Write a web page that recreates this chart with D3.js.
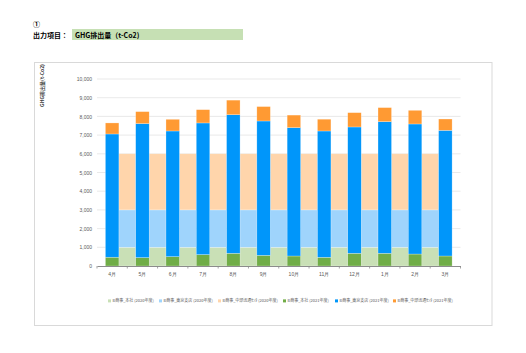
<!DOCTYPE html>
<html>
<head>
<meta charset="utf-8">
<script src="https://cdn.jsdelivr.net/npm/d3@7"></script>
<style>
  body { margin: 0; background: #fff; font-family: "Noto Sans CJK JP", "Noto Sans", sans-serif; }
</style>
</head>
<body>
<div id="chart"></div>
<script>
// months (fiscal year order)
const months = ["4月", "5月", "6月", "7月", "8月", "9月", "10月", "11月", "12月", "1月", "2月", "3月"];
const yTicks = [0, 1000, 2000, 3000, 4000, 5000, 6000, 7000, 8000, 9000, 10000];

// 2020 fiscal year (constant values, no bar shown after 3月)
const honsha2020 = [1000, 1000, 1000, 1000, 1000, 1000, 1000, 1000, 1000, 1000, 1000, null];
const tokyo2020  = [2000, 2000, 2000, 2000, 2000, 2000, 2000, 2000, 2000, 2000, 2000, null];
const chubu2020  = [3000, 3000, 3000, 3000, 3000, 3000, 3000, 3000, 3000, 3000, 3000, null];

// 2021 fiscal year
const honsha2021 = [470, 450, 500, 610, 680, 570, 535, 465, 680, 680, 640, 535];
const tokyo2021  = [6590, 7165, 6720, 7040, 7410, 7185, 6865, 6755, 6755, 7040, 6955, 6720];
const chubu2021  = [590, 640, 625, 710, 780, 770, 670, 630, 765, 750, 730, 605];

const seriesNames = [
  "B商事_本社 (2020年度)", "B商事_東京支店 (2020年度)", "B商事_中部流通ｾﾝﾀ (2020年度)",
  "B商事_本社 (2021年度)", "B商事_東京支店 (2021年度)", "B商事_中部流通ｾﾝﾀ (2021年度)"
];
const colors = ["#c9e0b6", "#9fd4fc", "#ffd5ab", "#70ad47", "#0096fa", "#ff9a33"];

const W = 526, H = 353;
const svg = d3.select("#chart").append("svg")
  .attr("width", W)
  .attr("height", H);

// header
svg.append("text").attr("x", 33).attr("y", 27)
  .style("font-size", "7px").style("font-weight", "bold").text("①");
svg.append("text").attr("x", 33).attr("y", 38)
  .style("font-size", "7px").style("font-weight", "bold").text("出力項目：");
svg.append("rect").attr("x", 72).attr("y", 29).attr("width", 171).attr("height", 11)
  .attr("fill", "#c6e0b4");
svg.append("text").attr("x", 75).attr("y", 37.5)
  .style("font-size", "7px").style("font-weight", "bold").text("GHG排出量（t-Co2)");

// chart frame
svg.append("rect").attr("x", 34.5).attr("y", 62.5).attr("width", 457.5).attr("height", 263)
  .attr("fill", "#fff").attr("stroke", "#d9d9d9");

const plot = { left: 97, right: 460.5, top: 79, bottom: 266 };

const x = d3.scaleBand()
  .domain(months)
  .range([plot.left, plot.right]);

const y = d3.scaleLinear()
  .domain([0, 10000])
  .range([plot.bottom, plot.top]);

// gridlines
svg.append("g")
  .selectAll("line")
  .data(yTicks.slice(1))
  .join("line")
  .attr("x1", plot.left).attr("x2", plot.right)
  .attr("y1", d => y(d)).attr("y2", d => y(d))
  .attr("stroke", "#e3e3e3").attr("stroke-width", 0.8);

// y axis labels
const yAxis = svg.append("g")
  .attr("transform", `translate(${plot.left - 5},0)`)
  .call(d3.axisLeft(y).tickValues(yTicks).tickSize(0).tickFormat(d3.format(",")));
yAxis.select(".domain").remove();
yAxis.selectAll("text").attr("fill", "#595959").style("font-size", "5px").attr("x", 0);

// y axis title
svg.append("text")
  .attr("transform", "translate(42,64) rotate(-90)")
  .attr("text-anchor", "end")
  .attr("dy", "0.35em")
  .attr("fill", "#404040")
  .style("font-size", "5px")
  .style("font-weight", "bold")
  .text("GHG排出量(t-Co2)");

// stacked data
function stackRows(a, b, c) {
  return months.map((m, i) => {
    if (a[i] == null) return null;
    const s1 = a[i], s2 = s1 + b[i], s3 = s2 + c[i];
    return { month: m, segs: [[0, s1], [s1, s2], [s2, s3]] };
  }).filter(d => d);
}
const rows2020 = stackRows(honsha2020, tokyo2020, chubu2020);
const rows2021 = stackRows(honsha2021, tokyo2021, chubu2021);

const bw2021 = 13.5, bw2020 = 17;

// 2020 bars sit between consecutive months
const g2020 = svg.append("g");
rows2020.forEach(r => {
  const cx = x(r.month) + x.bandwidth();
  g2020.selectAll(null)
    .data(r.segs)
    .join("rect")
    .attr("x", cx - bw2020 / 2)
    .attr("width", bw2020)
    .attr("y", d => y(d[1]))
    .attr("height", d => y(d[0]) - y(d[1]))
    .attr("fill", (d, i) => colors[i])
    .attr("stroke", "#fff").attr("stroke-opacity", 0.5).attr("stroke-width", 0.5);
});

// 2021 bars centred on the month
const g2021 = svg.append("g");
rows2021.forEach(r => {
  const cx = x(r.month) + x.bandwidth() / 2;
  g2021.selectAll(null)
    .data(r.segs)
    .join("rect")
    .attr("x", cx - bw2021 / 2)
    .attr("width", bw2021)
    .attr("y", d => y(d[1]))
    .attr("height", d => y(d[0]) - y(d[1]))
    .attr("fill", (d, i) => colors[i + 3])
    .attr("stroke", "#fff").attr("stroke-opacity", 0.5).attr("stroke-width", 0.5);
});

// x axis
const xAxis = svg.append("g")
  .attr("transform", `translate(0,${plot.bottom})`)
  .call(d3.axisBottom(x).tickSize(0).tickPadding(6));
xAxis.select(".domain").attr("stroke", "#8c8c8c");
xAxis.selectAll("text").attr("fill", "#595959").style("font-size", "5px");

// tick marks at category boundaries
svg.append("g")
  .selectAll("line")
  .data(months.map((m) => x(m)).concat([plot.right]))
  .join("line")
  .attr("x1", d => d).attr("x2", d => d)
  .attr("y1", plot.bottom).attr("y2", plot.bottom + 2.5)
  .attr("stroke", "#8c8c8c").attr("stroke-width", 0.8);

// legend
const legendX = [108, 159, 218, 283, 335, 393];
const legend = svg.append("g").attr("transform", "translate(0,301)");
seriesNames.forEach((name, i) => {
  legend.append("rect")
    .attr("x", legendX[i]).attr("y", -1.6)
    .attr("width", 3).attr("height", 3)
    .attr("fill", colors[i]);
  const label = legend.append("text")
    .attr("x", legendX[i] + 4.5).attr("y", 0)
    .attr("dy", "0.35em")
    .attr("fill", "#595959")
    .style("font-size", "4px")
    .text(name);
  // keep each label inside its slot like the reference
  const room = (i < 5 ? legendX[i + 1] : 456) - legendX[i] - 7;
  if (label.node().getComputedTextLength() > room) {
    label.attr("textLength", room).attr("lengthAdjust", "spacingAndGlyphs");
  }
});
</script>
</body>
</html>
